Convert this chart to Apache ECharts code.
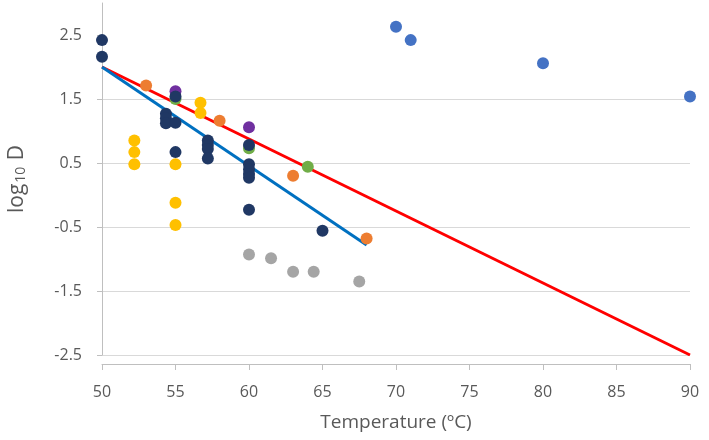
<!DOCTYPE html>
<html>
<head>
<meta charset="utf-8">
<script src="https://cdn.jsdelivr.net/npm/echarts@6/dist/echarts.min.js"></script>
<style>html,body{margin:0;padding:0;background:#fff}#c{width:709px;height:440px}</style>
</head>
<body>
<div id="c"></div>
<script>
// ---- data ----
var xTicks = [50, 55, 60, 65, 70, 75, 80, 85, 90];
var yTicks = [-2.5, -1.5, -0.5, 0.5, 1.5, 2.5];

var navyX = [50, 50, 54.35, 54.35, 54.35, 55, 55, 55, 57.2, 57.2, 57.2, 57.2, 60, 60, 60, 60, 60, 60, 65];
var navyY = [2.42, 2.16, 1.27, 1.20, 1.12, 1.54, 1.13, 0.67, 0.85, 0.78, 0.72, 0.57, 0.78, 0.48, 0.40, 0.33, 0.27, -0.23, -0.56];

var yellowX = [52.2, 52.2, 52.2, 55, 55, 55, 56.7, 56.7];
var yellowY = [0.85, 0.67, 0.48, 0.48, -0.12, -0.47, 1.44, 1.28];

var orangeX = [53.0, 58.0, 63.0, 68.0];
var orangeY = [1.71, 1.16, 0.30, -0.68];

var grayX = [60, 61.5, 63, 64.4, 67.5];
var grayY = [-0.93, -0.99, -1.20, -1.20, -1.35];

var greenX = [55, 60, 64];
var greenY = [1.50, 0.73, 0.44];

var purpleX = [55, 60];
var purpleY = [1.62, 1.06];

var blueX = [70, 71, 80, 90];
var blueY = [2.63, 2.42, 2.06, 1.54];

var redLineX = [50, 90];
var redLineY = [2.0, -2.5];
var blueLineX = [50, 68];
var blueLineY = [2.0, -0.78];

function pairs(xs, ys) { return xs.map(function (x, i) { return [x, ys[i]]; }); }

var FONT = 'Open Sans';
var chart = echarts.init(document.getElementById('c'), null, {renderer: 'canvas'});

function scatter(name, xs, ys, color) {
  return {
    name: name, type: 'scatter', data: pairs(xs, ys), symbolSize: 12, clip: false,
    itemStyle: {color: color, opacity: 1}, z: 3
  };
}

chart.setOption({
  animation: false,
  backgroundColor: '#ffffff',
  grid: {left: 102, right: 19, top: 3, bottom: 85, containLabel: false, outerBoundsMode: 'none'},
  xAxis: {
    type: 'value', min: 50, max: 90, interval: 5,
    offset: 9,
    name: 'Temperature (ºC)', nameLocation: 'middle', nameGap: 49,
    nameTextStyle: {fontFamily: FONT, fontSize: 19, color: '#595959'},
    axisLine: {show: true, onZero: false, lineStyle: {color: '#BFBFBF', width: 1}},
    axisTick: {show: true, length: 6, lineStyle: {color: '#BFBFBF'}},
    axisLabel: {fontFamily: FONT, fontSize: 16, color: '#595959', margin: 20},
    splitLine: {show: false}
  },
  yAxis: {
    type: 'value', min: -2.5, max: 3, interval: 1,
    name: '{n|log}{s|10}{n| D}', nameLocation: 'middle', nameGap: 74,
    nameTextStyle: {
      fontFamily: FONT, color: '#595959',
      rich: {
        n: {fontFamily: FONT, fontSize: 21, color: '#595959', lineHeight: 28, verticalAlign: 'bottom'},
        s: {fontFamily: FONT, fontSize: 14, color: '#595959', lineHeight: 24, verticalAlign: 'bottom', padding: [0, 1, 0, 1]}
      }
    },
    axisLine: {show: true, onZero: false, lineStyle: {color: '#BFBFBF', width: 1}},
    axisTick: {show: true, length: 5, lineStyle: {color: '#BFBFBF'}, customValues: yTicks},
    axisLabel: {fontFamily: FONT, fontSize: 16, color: '#595959', margin: 20, customValues: yTicks},
    splitLine: {show: true, showMaxLine: false, lineStyle: {color: '#D9D9D9', width: 1}}
  },
  series: [
    {type: 'line', data: pairs(redLineX, redLineY), showSymbol: false, symbol: 'none',
     lineStyle: {color: '#FF0000', width: 3}, z: 2},
    {type: 'line', data: pairs(blueLineX, blueLineY), showSymbol: false, symbol: 'none',
     lineStyle: {color: '#0070C0', width: 3}, z: 2},
    scatter('yellow', yellowX, yellowY, '#FFC000'),
    scatter('gray', grayX, grayY, '#A5A5A5'),
    scatter('orange', orangeX, orangeY, '#ED7D31'),
    scatter('green', greenX, greenY, '#70AD47'),
    scatter('purple', purpleX, purpleY, '#7030A0'),
    scatter('blue', blueX, blueY, '#4472C4'),
    scatter('navy', navyX, navyY, '#203864')
  ]
});
</script>
</body>
</html>
